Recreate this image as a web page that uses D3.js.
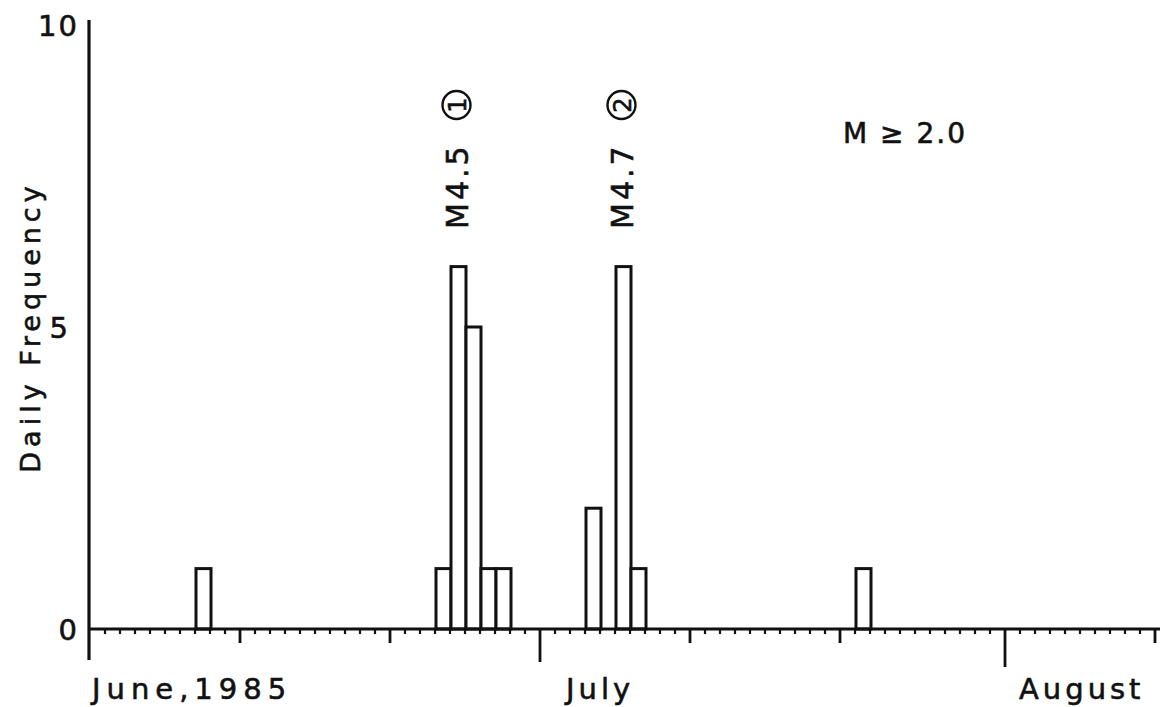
<!DOCTYPE html>
<head>
  <meta charset="utf-8">
  <script src="https://d3js.org/d3.v7.min.js"></script>
  <style>
    body { margin: 0; background: white; }
    text { font-family: "DejaVu Sans", sans-serif; fill: #111; stroke: #111; stroke-width: 0.6; }
  </style>
</head>

<body>
  <svg width="1165" height="707"></svg>

  <script>
    // daily counts of M >= 2.0 events
    const dates = ['1985-06-08', '1985-06-24', '1985-06-25', '1985-06-26', '1985-06-27',
                   '1985-06-28', '1985-07-04', '1985-07-06', '1985-07-07', '1985-07-22'];
    const counts = [1, 1, 6, 5, 1, 1, 2, 6, 1, 1];

    // main shocks marked above the bars
    const eventDates = ['1985-06-25', '1985-07-06'];
    const eventMags = ['M4.5', 'M4.7'];
    const eventIds = ['1', '2'];

    const yTicks = [0, 5, 10];
    const monthLabels = ['June,1985', 'July', 'August'];
    const monthDates = ['1985-06-01', '1985-07-01', '1985-08-01'];

    const parse = d3.utcParse('%Y-%m-%d');
    const svg = d3.select('svg');
    const ink = '#111';

    const x = d3.scaleUtc()
      .domain([parse('1985-06-01'), d3.utcHour.offset(parse('1985-08-11'), 8)])
      .range([90, 1160]);
    const y = d3.scaleLinear()
      .domain([0, 10])
      .range([629, 25]);

    const dayW = x(parse('1985-06-02')) - x(parse('1985-06-01'));

    // bars
    svg.append('g').selectAll('rect')
      .data(dates.map((d, i) => ({ date: parse(d), v: counts[i] })))
      .enter().append('rect')
      .attr('x', d => x(d.date) + 1)
      .attr('y', d => y(d.v))
      .attr('width', dayW)
      .attr('height', d => y(0) - y(d.v))
      .attr('fill', 'white')
      .attr('stroke', ink)
      .attr('stroke-width', 3);

    // x axis: daily ticks, longer every 10 days, longest at months
    const days = d3.utcDay.range(x.domain()[0], x.domain()[1]);
    const tickLen = d => {
      if (d.getUTCMonth() === 7 && d.getUTCDate() === 1) return 38;
      if (d.getUTCDate() === 1) return 33;
      if (d.getUTCDate() === 11 || d.getUTCDate() === 21) return 14;
      return 5;
    };
    svg.append('g').selectAll('line')
      .data(days.slice(1))
      .enter().append('line')
      .attr('x1', d => x(d)).attr('x2', d => x(d))
      .attr('y1', y(0)).attr('y2', d => y(0) + tickLen(d))
      .attr('stroke', ink)
      .attr('stroke-width', d => tickLen(d) > 5 ? 2.8 : 2.2);

    svg.append('line')
      .attr('x1', x.range()[0] - 2).attr('x2', x.range()[1])
      .attr('y1', y(0)).attr('y2', y(0))
      .attr('stroke', ink).attr('stroke-width', 2.8);

    // y axis
    svg.append('line')
      .attr('x1', 89).attr('x2', 89)
      .attr('y1', y(10) - 5).attr('y2', y(0) + 31)
      .attr('stroke', ink).attr('stroke-width', 3.2);

    svg.append('g').selectAll('text')
      .data(yTicks)
      .enter().append('text')
      .attr('x', d => d === 5 ? 70 : 79)
      .attr('y', d => y(d) + 11)
      .attr('text-anchor', 'end')
      .attr('font-size', 29)
      .attr('letter-spacing', 2)
      .text(d => d);

    svg.append('text')
      .attr('transform', `translate(40,${(y(0) + y(10)) / 2}) rotate(-90)`)
      .attr('text-anchor', 'middle')
      .attr('font-size', 27)
      .attr('letter-spacing', 5)
      .text('Daily Frequency');

    // month labels
    svg.append('g').selectAll('text')
      .data(monthLabels)
      .enter().append('text')
      .attr('x', (d, i) => x(parse(monthDates[i])) + [2, 26, 14][i])
      .attr('y', 699)
      .attr('font-size', 29)
      .attr('letter-spacing', (d, i) => i === 0 ? 6 : 4)
      .text(d => d);

    // event annotations
    const ev = svg.append('g').selectAll('g')
      .data(eventDates)
      .enter().append('g')
      .attr('transform', d => `translate(${x(parse(d)) + dayW / 2 - 1},229) rotate(-90)`);
    ev.append('text')
      .attr('x', 0).attr('y', 11)
      .attr('font-size', 30)
      .attr('letter-spacing', 3)
      .text((d, i) => eventMags[i]);
    ev.append('circle')
      .attr('cx', 124).attr('cy', 0).attr('r', 14)
      .attr('fill', 'none').attr('stroke', ink).attr('stroke-width', 2.4);
    ev.append('text')
      .attr('x', 124).attr('y', 9)
      .attr('text-anchor', 'middle')
      .attr('font-size', 24)
      .text((d, i) => eventIds[i]);

    svg.append('text')
      .attr('x', 843).attr('y', 143)
      .attr('font-size', 28)
      .attr('letter-spacing', 2)
      .text('M  \u2265 2.0');
  </script>
</body>
